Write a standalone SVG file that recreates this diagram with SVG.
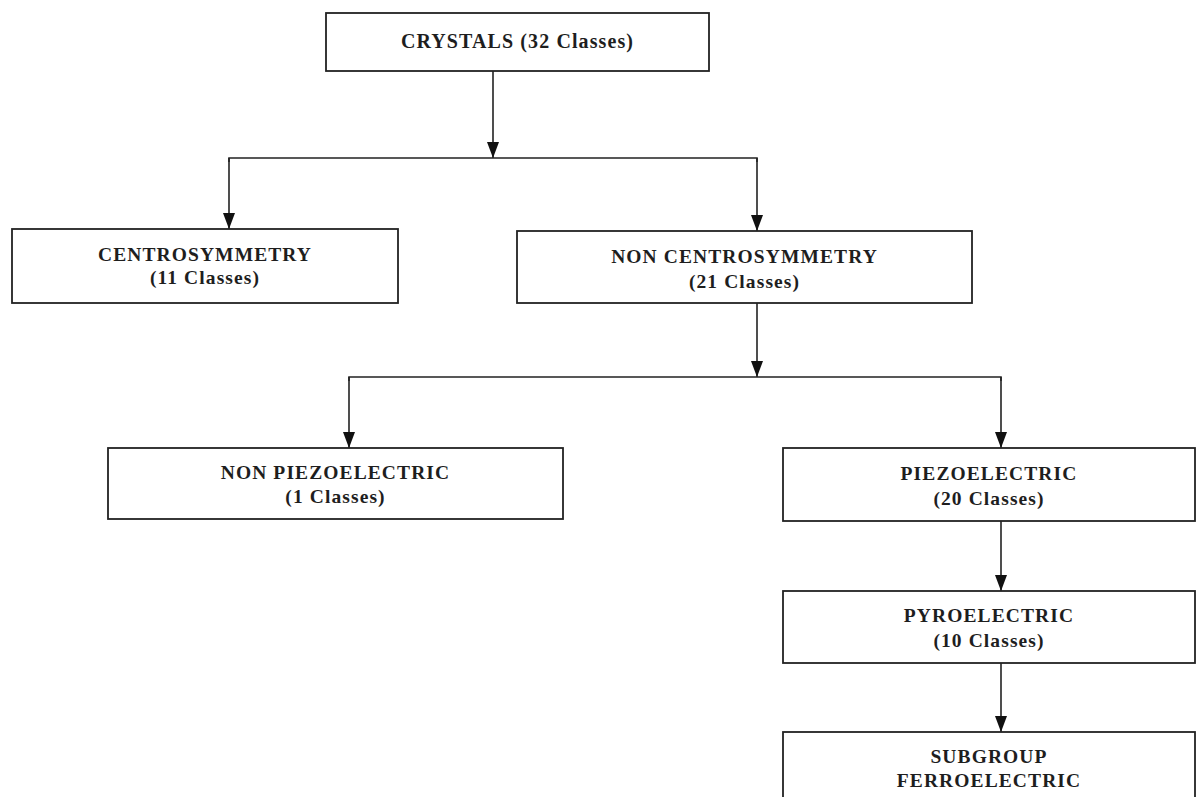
<svg xmlns="http://www.w3.org/2000/svg" width="1200" height="797" viewBox="0 0 1200 797">
<defs>
<style>
.box{fill:#fff;stroke:#222;stroke-width:1.8}
.t{font-family:"Liberation Serif","Times New Roman",serif;font-weight:bold;font-size:19.5px;fill:#1e1e1e;text-anchor:middle;letter-spacing:1.1px}
.c{fill:none;stroke:#222;stroke-width:1.6}
.a{marker-end:url(#ah)}
</style>
<marker id="ah" viewBox="0 0 16 12" refX="16" refY="6" markerWidth="16" markerHeight="12" markerUnits="userSpaceOnUse" orient="auto">
<path d="M0,0 L16,6 L0,12 Z" fill="#111"/>
</marker>
</defs>
<rect width="1200" height="797" fill="#fff"/>
<g id="connectors">
<path class="c a" d="M493,71 V158"/>
<path class="c" d="M229,162 V158 H757 V162"/>
<path class="c a" d="M229,158 V229"/>
<path class="c a" d="M757,158 V231"/>
<path class="c a" d="M757,303 V377"/>
<path class="c" d="M349,381 V377 H1001 V381"/>
<path class="c a" d="M349,377 V448"/>
<path class="c a" d="M1001,377 V448"/>
<path class="c a" d="M1001,521 V591"/>
<path class="c a" d="M1001,663 V732"/>
</g>
<g id="crystals">
<rect class="box" x="326" y="13" width="383" height="58"/>
<text class="t" x="517.5" y="48" style="font-size:20px">CRYSTALS (32 Classes)</text>
</g>
<g id="centrosymmetry">
<rect class="box" x="12" y="229" width="386" height="74"/>
<text class="t" x="205" y="261">CENTROSYMMETRY</text>
<text class="t" x="205" y="284">(11 Classes)</text>
</g>
<g id="non-centrosymmetry">
<rect class="box" x="517" y="231" width="455" height="72"/>
<text class="t" x="744.5" y="263">NON CENTROSYMMETRY</text>
<text class="t" x="744.5" y="288">(21 Classes)</text>
</g>
<g id="non-piezoelectric">
<rect class="box" x="108" y="448" width="455" height="71"/>
<text class="t" x="335.5" y="479">NON PIEZOELECTRIC</text>
<text class="t" x="335.5" y="503">(1 Classes)</text>
</g>
<g id="piezoelectric">
<rect class="box" x="783" y="448" width="412" height="73"/>
<text class="t" x="989" y="480">PIEZOELECTRIC</text>
<text class="t" x="989" y="505">(20 Classes)</text>
</g>
<g id="pyroelectric">
<rect class="box" x="783" y="591" width="412" height="72"/>
<text class="t" x="989" y="622">PYROELECTRIC</text>
<text class="t" x="989" y="647">(10 Classes)</text>
</g>
<g id="ferroelectric">
<rect class="box" x="783" y="732" width="412" height="80"/>
<text class="t" x="989" y="763">SUBGROUP</text>
<text class="t" x="989" y="787">FERROELECTRIC</text>
</g>
</svg>
